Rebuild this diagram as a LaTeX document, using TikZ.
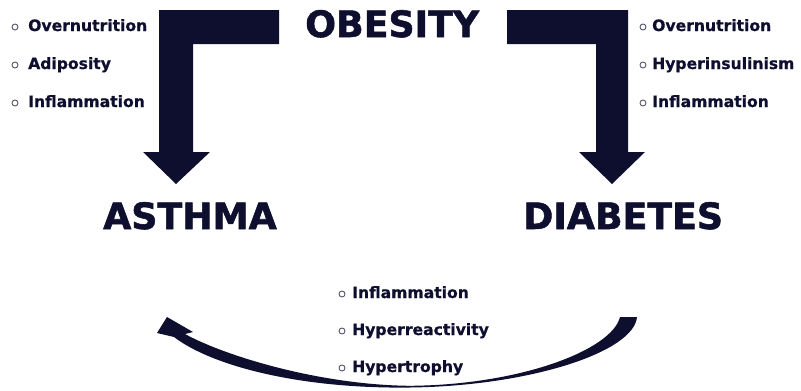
\documentclass[tikz,border=0pt]{standalone}
\usepackage{fontspec}
\setmainfont{DejaVu Sans}
\newfontfamily\heavyfont[FakeBold=1.5]{DejaVu Sans Bold}
\newfontfamily\itemfont[FakeBold=0.8]{DejaVu Sans Bold}
\definecolor{navy}{RGB}{14,14,46}
\begin{document}
\begin{tikzpicture}[x=1pt,y=-1pt,
  big/.style={font=\fontsize{36.3}{36}\heavyfont, text=navy, inner sep=0pt, anchor=base west},
  item/.style={font=\fontsize{15.6}{15.6}\itemfont, text=navy, inner sep=0pt, anchor=base west},
  bul/.style={draw=navy!70, line width=0.9pt},
  fillshape/.style={fill=navy, draw=none}]
\useasboundingbox (0,0) rectangle (801,391);
% bent arrows
\fill[fillshape] (279,10) -- (159,10) -- (159,152) -- (143,152) -- (176,184) -- (210,152) -- (193,152) -- (193,44) -- (279,44) -- cycle;
\fill[fillshape] (507,10) -- (628,10) -- (628,152) -- (645,152) -- (612,184) -- (579,152) -- (596,152) -- (596,44) -- (507,44) -- cycle;
% curved arrow
\fill[fillshape] (637,317) .. controls (634,352) and (530,386) .. (410,387.5)
  .. controls (300,389) and (212,366) .. (174,337)
  -- (157,333) -- (167,317) -- (193,332) -- (185,334)
  .. controls (225,356) and (320,385) .. (410,385.8)
  .. controls (520,385) and (612,350) .. (620,317) -- cycle;
% titles
\node[big] (obesity) at (305,37) {OBESITY};
\node[big] (asthma) at (103,229) {ASTHMA};
\node[big] (diabetes) at (523,229) {DIABETES};
% left list
\draw[bul] (15,27) circle (3);
\node[item] (l1) at (28,31) {Overnutrition};
\draw[bul] (15,65) circle (3);
\node[item] (l2) at (28,69) {Adiposity};
\draw[bul] (15,103) circle (3);
\node[item] (l3) at (28,107) {Inflammation};
% right list
\draw[bul] (643,27) circle (3);
\node[item] (r1) at (652,31) {Overnutrition};
\draw[bul] (643,65) circle (3);
\node[item] (r2) at (652,69) {Hyperinsulinism};
\draw[bul] (643,103) circle (3);
\node[item] (r3) at (652,107) {Inflammation};
% bottom list
\draw[bul] (342,294) circle (3);
\node[item] (b1) at (352,298) {Inflammation};
\draw[bul] (342,331) circle (3);
\node[item] (b2) at (352,335) {Hyperreactivity};
\draw[bul] (342,368) circle (3);
\node[item] (b3) at (352,372) {Hypertrophy};
\end{tikzpicture}
\end{document}
